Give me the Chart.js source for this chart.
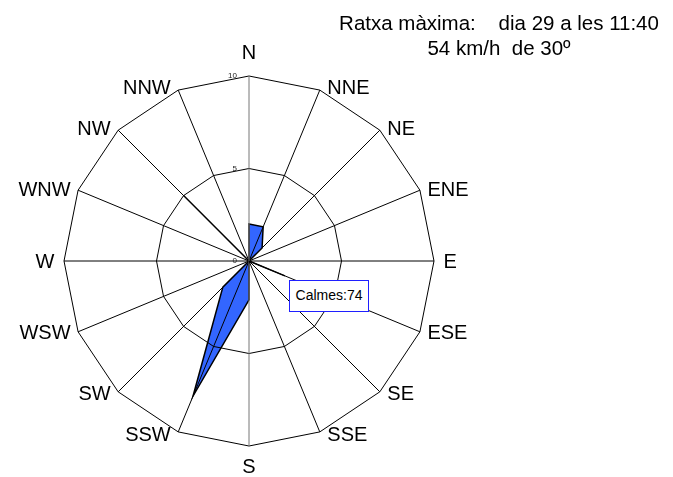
<!DOCTYPE html>
<html>
<head>
<meta charset="utf-8">
<script src="https://cdn.jsdelivr.net/npm/chart.js@4"></script>
<style>
  html, body { margin: 0; padding: 0; background: #fff; overflow: hidden; width: 673px; height: 477px; }
  #wrap { position: relative; width: 673px; height: 477px; overflow: hidden; }
  #c { position: absolute; left: -50px; top: 0; }
  .title { position: absolute; left: 299px; width: 400px; text-align: center; white-space: pre;
           font-family: "Liberation Sans", Arial, sans-serif; font-size: 20.5px; line-height: 25px; color: #000; }
  #calm { position: absolute; left: 289px; top: 280px; width: 80px; height: 32px; box-sizing: border-box;
          border: 1.6px solid #1f1fff; background: #fff; font-family: "Liberation Sans", Arial, sans-serif;
          font-size: 14px; line-height: 29px; text-align: center; color: #000; }
</style>
</head>
<body>
<div id="wrap">
  <canvas id="c" width="598" height="480" style="width:598px;height:480px"></canvas>
  <div class="title" id="t1" style="top:10px"></div>
  <div class="title" id="t2" style="top:35px"></div>
  <div id="calm"></div>
</div>
<script>
// ---- data ----
const directions = ["N","NNE","NE","ENE","E","ESE","SE","SSE","S","SSW","SW","WSW","W","WNW","NW","NNW"];
const frequencies = [2.0, 2.0, 1.0, 0, 0, 2.1, 0, 0, 2.1, 7.9, 2.0, 0, 0, 0, 5.0, 0];
const tickValues = [0, 5, 10];
const titleLines = ["Ratxa màxima:    dia 29 a les 11:40", "54 km/h  de 30º"];
const calmsLabel = "Calmes:74";

document.getElementById('t1').textContent = titleLines[0];
document.getElementById('t2').textContent = titleLines[1];
document.getElementById('calm').textContent = calmsLabel;

const labelFont = '20px "Liberation Sans", Arial, sans-serif';

const rosePlugin = {
  id: 'roseLabels',
  afterDraw(chart) {
    const s = chart.scales.r;
    const ctx = chart.ctx;
    ctx.save();
    // tick labels along the N spoke
    ctx.font = '8px "Liberation Sans", Arial, sans-serif';
    ctx.fillStyle = '#222';
    ctx.textAlign = 'right';
    ctx.textBaseline = 'middle';
    tickValues.forEach(v => {
      const d = s.getDistanceFromCenterForValue(v);
      ctx.fillText(String(v), s.xCenter - 12, s.yCenter - d);
    });
    // direction labels, Excel-style placement
    ctx.font = labelFont;
    ctx.fillStyle = '#000';
    ctx.textBaseline = 'middle';
    s._pointLabels.forEach((lab, i) => {
      const p = s.getPointPosition(i, s.drawingArea);
      const deg = Math.round((i * 360) / s._pointLabels.length);
      let x = p.x, y = p.y;
      if (deg === 0) { ctx.textAlign = 'center'; y -= 23; }
      else if (deg === 180) { ctx.textAlign = 'center'; y += 21; }
      else {
        const right = deg < 180;
        ctx.textAlign = right ? 'left' : 'right';
        const gap = (deg === 90 || deg === 270) ? 9.5 : 7.5;
        x += right ? gap : -gap;
        y += -2.5 * Math.cos(deg * Math.PI / 180) + 1;
      }
      ctx.fillText(lab, x, y);
    });
    ctx.restore();
  }
};

new Chart(document.getElementById('c'), {
  type: 'radar',
  data: {
    labels: directions,
    datasets: [{
      data: frequencies,
      backgroundColor: '#3366ff',
      borderColor: '#000',
      borderWidth: 1.5,
      pointRadius: 0,
      pointHoverRadius: 0,
      fill: true
    }]
  },
  options: {
    responsive: false,
    animation: false,
    devicePixelRatio: 1,
    layout: { padding: { top: 42, left: 0, right: 0, bottom: 0 } },
    plugins: { legend: { display: false }, tooltip: { enabled: false } },
    scales: {
      r: {
        min: 0,
        max: 10,
        beginAtZero: true,
        ticks: { display: false, stepSize: 5 },
        grid: { color: '#000', lineWidth: 1, z: 1 },
        angleLines: { color: (c) => (c.index % 8 === 0 ? '#777' : '#000'), lineWidth: 1 },
        pointLabels: {
          color: 'rgba(0,0,0,0)',
          padding: 10,
          font: { family: '"Liberation Sans", Arial, sans-serif', size: 20 }
        }
      }
    }
  },
  plugins: [rosePlugin]
});
</script>
</body>
</html>
